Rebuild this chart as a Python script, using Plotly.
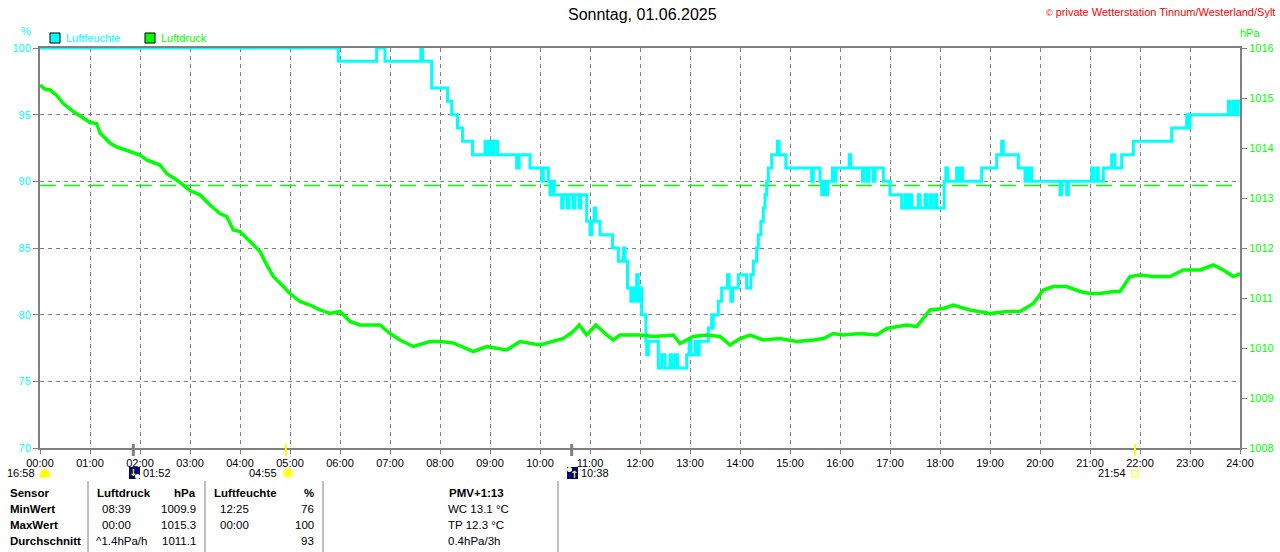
import plotly.graph_objects as go

# Luftfeuchte (%), Stufenwerte: Uhrzeit der Aenderung und neuer Wert
hum_time = ["00:00", "05:58", "06:44", "06:54", "07:37", "07:39", "07:50", "08:09", "08:14", "08:21",
            "08:27", "08:39", "08:54", "08:57", "09:00", "09:03", "09:05", "09:09", "09:32", "09:35",
            "09:48", "10:02", "10:04", "10:10", "10:12", "10:14", "10:17", "10:26", "10:28", "10:33",
            "10:35", "10:40", "10:42", "10:47", "10:49", "10:56", "11:00", "11:02", "11:05", "11:07",
            "11:12", "11:27", "11:34", "11:40", "11:42", "11:45", "11:49", "11:51", "11:53", "11:56",
            "11:58", "12:00", "12:02", "12:07", "12:08", "12:10", "12:22", "12:26", "12:30", "12:36",
            "12:38", "12:42", "12:45", "12:56", "12:59", "13:01", "13:06", "13:08", "13:11", "13:22",
            "13:26", "13:27", "13:28", "13:34", "13:38", "13:45", "13:47", "13:49", "13:51", "13:58",
            "14:08", "14:13", "14:16", "14:20", "14:22", "14:25", "14:28", "14:30", "14:32", "14:34",
            "14:38", "14:45", "14:47", "14:55", "15:26", "15:28", "15:36", "15:38", "15:40", "15:42",
            "15:45", "15:51", "15:53", "15:55", "16:11", "16:13", "16:27", "16:29", "16:33", "16:35",
            "16:40", "16:42", "16:52", "17:00", "17:14", "17:18", "17:20", "17:23", "17:26", "17:34",
            "17:36", "17:42", "17:44", "17:48", "17:50", "17:54", "17:56", "18:05", "18:07", "18:09",
            "18:20", "18:22", "18:25", "18:27", "18:50", "19:08", "19:14", "19:16", "19:34", "19:42",
            "19:44", "19:46", "19:48", "19:50", "20:24", "20:26", "20:32", "20:34", "21:02", "21:04",
            "21:08", "21:10", "21:16", "21:26", "21:30", "21:38", "21:52", "22:38", "22:56", "22:58",
            "23:00", "23:46", "23:48", "23:52", "23:55", "23:58", "24:00"]
hum_val = [100, 99, 100, 99, 100, 99, 97, 96, 95, 94,
           93, 92, 93, 92, 93, 92, 93, 92, 91, 92,
           91, 90, 91, 90, 89, 90, 89, 88, 89, 88,
           89, 88, 89, 88, 89, 87, 86, 87, 88, 87,
           86, 85, 84, 85, 84, 82, 81, 82, 81, 83,
           81, 82, 80, 78, 77, 78, 76, 77, 76, 77,
           76, 77, 76, 77, 78, 77, 78, 77, 78, 79,
           80, 79, 80, 81, 82, 83, 82, 81, 82, 83,
           82, 83, 84, 85, 86, 87, 88, 89, 90, 91,
           92, 93, 92, 91, 90, 91, 90, 89, 90, 89,
           90, 91, 90, 91, 92, 91, 90, 91, 90, 91,
           90, 91, 90, 89, 88, 89, 88, 89, 88, 89,
           88, 89, 88, 89, 88, 89, 88, 90, 91, 90,
           91, 90, 91, 90, 91, 92, 93, 92, 91, 90,
           91, 90, 91, 90, 89, 90, 89, 90, 91, 90,
           91, 90, 91, 92, 91, 92, 93, 94, 95, 94,
           95, 96, 95, 96, 95, 96, 96]

# Luftdruck (hPa)
pres_time = ["00:00", "00:06", "00:12", "00:20", "00:28", "00:40", "00:50", "01:00", "01:08", "01:12",
             "01:24", "01:32", "01:48", "02:00", "02:08", "02:24", "02:32", "02:44", "03:00", "03:12",
             "03:24", "03:36", "03:44", "03:52", "04:00", "04:12", "04:24", "04:32", "04:40", "04:52",
             "05:00", "05:12", "05:24", "05:36", "05:48", "06:00", "06:12", "06:24", "06:48", "07:00",
             "07:12", "07:28", "07:48", "08:00", "08:16", "08:40", "08:56", "09:20", "09:36", "10:00",
             "10:16", "10:28", "10:40", "10:47", "10:56", "11:07", "11:20", "11:28", "11:36", "12:00",
             "12:16", "12:40", "12:48", "13:04", "13:20", "13:36", "13:48", "14:00", "14:12", "14:28",
             "14:48", "15:08", "15:28", "15:40", "15:52", "16:04", "16:24", "16:44", "16:56", "17:20",
             "17:32", "17:48", "18:04", "18:16", "18:36", "19:00", "19:20", "19:36", "19:52", "20:04",
             "20:16", "20:32", "20:48", "21:00", "21:12", "21:28", "21:36", "21:48", "22:00", "22:16",
             "22:36", "22:52", "23:12", "23:28", "23:40", "23:52", "24:00"]
pres_val = [1015.26, 1015.18, 1015.16, 1015.05, 1014.89, 1014.73, 1014.62, 1014.51, 1014.49, 1014.30,
            1014.10, 1014.02, 1013.93, 1013.86, 1013.76, 1013.66, 1013.49, 1013.36, 1013.15, 1013.06,
            1012.86, 1012.69, 1012.63, 1012.36, 1012.33, 1012.13, 1011.93, 1011.66, 1011.43, 1011.23,
            1011.09, 1010.93, 1010.86, 1010.76, 1010.69, 1010.73, 1010.53, 1010.46, 1010.46, 1010.29,
            1010.16, 1010.03, 1010.13, 1010.13, 1010.10, 1009.93, 1010.03, 1009.96, 1010.13, 1010.06,
            1010.13, 1010.19, 1010.33, 1010.46, 1010.26, 1010.46, 1010.26, 1010.16, 1010.26, 1010.26,
            1010.23, 1010.26, 1010.09, 1010.23, 1010.26, 1010.23, 1010.06, 1010.19, 1010.26, 1010.16,
            1010.19, 1010.13, 1010.16, 1010.19, 1010.29, 1010.26, 1010.29, 1010.26, 1010.39, 1010.46,
            1010.43, 1010.76, 1010.79, 1010.86, 1010.76, 1010.69, 1010.73, 1010.73, 1010.89, 1011.16,
            1011.23, 1011.23, 1011.13, 1011.09, 1011.09, 1011.13, 1011.13, 1011.43, 1011.46, 1011.43,
            1011.43, 1011.56, 1011.56, 1011.66, 1011.56, 1011.43, 1011.49]

std_pressure = 1013.25

hour_labels = ["%02d:00" % h for h in range(25)]

# Sonne/Mond Zeiten
moon_set = "01:52"
sun_rise = "04:55"
moon_rise = "10:38"
sun_set = "21:54"
moon_prev = "16:58"

# Tabelle unten
row_labels = ["Sensor", "MinWert", "MaxWert", "Durchschnitt"]
druck_time = ["Luftdruck", "08:39", "00:00", "^1.4hPa/h"]
druck_val = ["hPa", "1009.9", "1015.3", "1011.1"]
feuchte_time = ["Luftfeuchte", "12:25", "00:00", ""]
feuchte_val = ["%", "76", "100", "93"]
extra = ["PMV+1:13", "WC 13.1 °C", "TP 12.3 °C", "0.4hPa/3h"]


def hrs(t):
    h, m = t.split(":")
    return int(h) + int(m) / 60.0


# pixel -> paper
def fx(px):
    return (px - 40) / 1200.0


def fy(py):
    return (448 - py) / 400.0


FONT = "Liberation Sans"
CYAN = "#00FFFF"
GREEN = "#00FF00"
GREY = "#808080"
YELLOW = "#FFFF00"

fig = go.Figure()
fig.add_trace(go.Scatter(x=[hrs(t) for t in hum_time], y=hum_val, name="Luftfeuchte",
                         mode="lines", line=dict(color=CYAN, width=3, shape="hv")))
fig.add_trace(go.Scatter(x=[hrs(t) for t in pres_time], y=pres_val, name="Luftdruck", yaxis="y2",
                         mode="lines", line=dict(color=GREEN, width=3.5)))

fig.add_shape(type="line", xref="x", yref="y2", x0=0, x1=24, y0=std_pressure, y1=std_pressure,
              line=dict(color=GREEN, width=1.5, dash="16px,8px"), layer="below")

ann = []


def text(px, py, s, color="black", size=11, anchor="left", bold=False, family=FONT):
    if bold:
        s = "<b>" + s + "</b>"
    ann.append(dict(x=fx(px), y=fy(py), xref="paper", yref="paper", text=s, showarrow=False,
                    xanchor=anchor, yanchor="middle", font=dict(color=color, size=size, family=family)))


text(642, 15, "Sonntag, 01.06.2025", size=16, anchor="center")
text(1277, 12, "<span style='font-size:9px'>©</span> private Wetterstation Tinnum/Westerland/Sylt",
     color="#FF0000", size=11, anchor="right")
text(26, 31, "%", color=CYAN, size=11, anchor="center")
text(1250, 33, "hPa", color=GREEN, size=11, anchor="center")
text(64, 38, "Luftfeuchte", color=CYAN, size=11)
text(159, 38, "Luftdruck", color=GREEN, size=11)

# Legende Kaestchen
fig.add_shape(type="rect", xref="paper", yref="paper", x0=fx(50), x1=fx(60), y0=fy(33), y1=fy(43),
              fillcolor=CYAN, line=dict(color="black", width=1))
fig.add_shape(type="rect", xref="paper", yref="paper", x0=fx(145), x1=fx(155), y0=fy(33), y1=fy(43),
              fillcolor=GREEN, line=dict(color="black", width=1))

# Markierungen Sonne / Mond an der Zeitachse
for t, c, w in [(moon_set, GREY, 3), (moon_rise, GREY, 3), (sun_rise, YELLOW, 2), (sun_set, YELLOW, 2)]:
    fig.add_shape(type="line", xref="x", yref="paper", x0=hrs(t), x1=hrs(t), y0=fy(444), y1=fy(456),
                  line=dict(color=c, width=w))

text(37, 473, moon_prev, size=11, anchor="right")
fig.add_shape(type="path", xref="paper", yref="paper",
              path="M %f,%f C %f,%f %f,%f %f,%f Z" % (fx(40), fy(477), fx(40), fy(467), fx(50), fy(467),
                                                     fx(50), fy(477)),
              fillcolor=YELLOW, line=dict(color=YELLOW, width=1))
text(141, 473, moon_set, size=11)
fig.add_shape(type="rect", xref="paper", yref="paper", x0=fx(129), x1=fx(140), y0=fy(467), y1=fy(479),
              fillcolor="#000080", line=dict(width=0))
fig.add_shape(type="circle", xref="paper", yref="paper", x0=fx(135), x1=fx(140), y0=fy(474), y1=fy(479),
              fillcolor="white", line=dict(width=0))
text(133, 472, "↓", color=YELLOW, size=10, anchor="center", bold=True, family="DejaVu Sans")
text(279, 473, sun_rise, size=11, anchor="right")
fig.add_shape(type="circle", xref="paper", yref="paper", x0=fx(282), x1=fx(294), y0=fy(467), y1=fy(479),
              fillcolor="#FFFFA0", line=dict(width=0))
fig.add_shape(type="circle", xref="paper", yref="paper", x0=fx(284.5), x1=fx(291.5), y0=fy(469.5),
              y1=fy(476.5), fillcolor=YELLOW, line=dict(width=0))
text(579, 473, moon_rise, size=11)
fig.add_shape(type="rect", xref="paper", yref="paper", x0=fx(567), x1=fx(578), y0=fy(467), y1=fy(479),
              fillcolor="#000080", line=dict(width=0))
fig.add_shape(type="circle", xref="paper", yref="paper", x0=fx(567), x1=fx(572), y0=fy(467), y1=fy(472),
              fillcolor="white", line=dict(width=0))
text(574, 474, "↑", color=YELLOW, size=10, anchor="center", bold=True, family="DejaVu Sans")
text(1128, 473, sun_set, size=11, anchor="right")
fig.add_shape(type="rect", xref="paper", yref="paper", x0=fx(1132), x1=fx(1138), y0=fy(470), y1=fy(477),
              line=dict(color=YELLOW, width=1))

# Tabelle
for sx in [88, 205, 323, 558]:
    fig.add_shape(type="line", xref="paper", yref="paper", x0=fx(sx), x1=fx(sx), y0=fy(481), y1=fy(552),
                  line=dict(color=GREY, width=1))
row_y = [493, 509, 525, 541]
TS = 11.5
for i, ry in enumerate(row_y):
    head = i == 0
    text(8, ry, row_labels[i], size=TS, bold=True)
    text(95 if head else (94 if i == 3 else 100), ry, druck_time[i], size=TS, bold=head)
    text(198, ry, druck_val[i], size=TS, anchor="right", bold=head)
    if feuchte_time[i]:
        text(212 if head else 218, ry, feuchte_time[i], size=TS, bold=head)
    text(316, ry, feuchte_val[i], size=TS, anchor="right", bold=head)
    if head:
        text(476, ry, extra[i], size=TS, anchor="center", bold=True)
    else:
        text(446, ry, extra[i], size=TS)

fig.update_layout(
    width=1280, height=552, autosize=False,
    margin=dict(l=40, r=40, t=48, b=104, autoexpand=False),
    paper_bgcolor="white", plot_bgcolor="white",
    showlegend=False,
    annotations=ann,
    font=dict(family=FONT, size=11, color="black"),
    xaxis=dict(range=[0, 24], tickvals=list(range(25)), ticktext=hour_labels,
               showline=True, linecolor=GREY, linewidth=2, mirror=True,
               ticks="outside", ticklen=4, tickcolor=GREY, automargin=False,
               showgrid=True, gridcolor=GREY, gridwidth=1, griddash="4px,4px",
               zeroline=False, tickfont=dict(color="black", size=11), fixedrange=True),
    yaxis=dict(range=[70, 100], dtick=5, showline=True, linecolor=GREY, linewidth=2,
               ticks="outside", ticklen=5, tickcolor=GREY, automargin=False,
               showgrid=True, gridcolor=GREY, gridwidth=1, griddash="4px,4px",
               zeroline=False, tickfont=dict(color=CYAN, size=11)),
    yaxis2=dict(range=[1008, 1016], dtick=1, overlaying="y", side="right",
                showline=True, linecolor=GREY, linewidth=2, automargin=False,
                ticks="outside", ticklen=5, tickcolor=GREY, showgrid=False, zeroline=False,
                tickfont=dict(color=GREEN, size=11)),
)

fig.write_html("out.html", config={"displayModeBar": False},
               post_script="document.body.style.margin='0';")
